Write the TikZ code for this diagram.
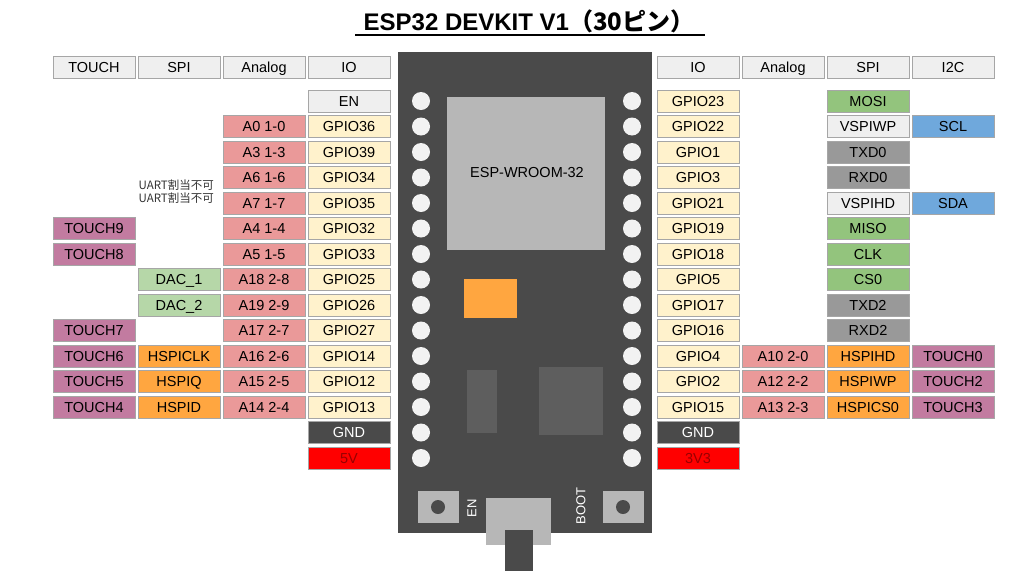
\documentclass[tikz,border=0pt]{standalone}
\usepackage{fontspec}
\setmainfont{Liberation Sans}
\newfontfamily\cjk{Noto Sans CJK JP}
\definecolor{analog}{HTML}{EA9999}
\definecolor{gpio}{HTML}{FFF2CC}
\definecolor{touch}{HTML}{C27BA0}
\definecolor{dac}{HTML}{B6D7A8}
\definecolor{hspi}{HTML}{FFA640}
\definecolor{vspi}{HTML}{93C47D}
\definecolor{uart}{HTML}{999999}
\definecolor{pale}{HTML}{EFEFEF}
\definecolor{itwoc}{HTML}{6FA8DC}
\definecolor{board}{HTML}{4A4A4A}
\definecolor{part}{HTML}{5E5E5E}
\definecolor{module}{HTML}{B7B7B7}
\tikzset{
  pin/.style={draw=gray!70, line width=0.8pt, minimum width=82pt, minimum height=22pt,
    inner sep=0pt, text depth=0pt, text height=10pt, font=\fontsize{14.5}{16}\selectfont},
  head/.style={pin, fill=pale},
}
\begin{document}
\begin{tikzpicture}[x=1pt, y=-1pt]
    \useasboundingbox (0, 0) rectangle (1024, 576);
    % title
    \node[font=\bfseries\fontsize{24}{26}\selectfont, inner sep=0pt] (title) at (529, 21) {ESP32 DEVKIT V1{\cjk\bfseries （30ピン）}};
    \draw[line width=1.6pt] (355, 35) coordinate (ula) -- (705, 35) coordinate (ulb);
    % board
    \fill[board] (398, 52) rectangle (652, 533);
    \fill[module] (447, 97) rectangle (605, 250);
    \node[font=\fontsize{14.5}{16}\selectfont] (wroom) at (527, 173) {ESP-WROOM-32};
    \fill[hspi] (464, 279) rectangle (517, 318);
    \fill[part] (467, 370) rectangle (497, 433);
    \fill[part] (539, 367) rectangle (603, 435);
    \foreach \r in {0, ..., 14} {
        \fill[white!90!gray] (421, 101 + 25.5*\r) circle (9);
        \fill[white!90!gray] (632, 101 + 25.5*\r) circle (9);
    }
    \fill[module] (418, 491) rectangle (459, 523);
    \fill[board] (438, 507) circle (7);
    \fill[module] (603, 491) rectangle (644, 523);
    \fill[board] (623, 507) circle (7);
    \fill[module] (486, 498) rectangle (551, 545);
    \fill[board] (505, 530) rectangle (533, 571);
    \node[white, rotate=90, font=\fontsize{13}{15}\selectfont] (en) at (472, 508) {EN};
    \node[white, rotate=90, font=\fontsize{13}{15}\selectfont] (boot) at (581, 506) {BOOT};
    % headers
    \foreach \x/\t in {94/TOUCH, 179/SPI, 264/Analog, 349/IO, 698/IO, 783/Analog, 868/SPI, 953/I2C}
        \node[head] (h\t\x) at (\x, 67) {\t};
    % left IO
    \node[pin, fill=pale] (lio0) at (349, 101) {EN};
    \foreach \n [count=\r] in {36, 39, 34, 35, 32, 33, 25, 26, 27, 14, 12, 13}
        \node[pin, fill=gpio] (lio\r) at (349, 101 + 25.5*\r) {GPIO\n};
    \node[pin, fill=board, text=white] (lgnd) at (349, 101 + 25.5*13) {GND};
    \node[pin, fill=red, text=red!60!black] (l5v) at (349, 101 + 25.5*14) {5V};
    % left analog
    \foreach \t [count=\r] in {A0 1-0, A3 1-3, A6 1-6, A7 1-7, A4 1-4, A5 1-5, A18 2-8, A19 2-9, A17 2-7, A16 2-6, A15 2-5, A14 2-4}
        \node[pin, fill=analog] (lan\r) at (264, 101 + 25.5*\r) {\t};
    \node[anchor=east, text=black!80, font=\cjk\fontsize{11.5}{13}\selectfont, inner sep=0pt] (uart34) at (214, 185) {UART割当不可};
    \node[anchor=east, text=black!80, font=\cjk\fontsize{11.5}{13}\selectfont, inner sep=0pt] (uart35) at (214, 198) {UART割当不可};
    % left spi
    \node[pin, fill=dac] (ldac1) at (179, 101 + 25.5*7) {DAC\_1};
    \node[pin, fill=dac] (ldac2) at (179, 101 + 25.5*8) {DAC\_2};
    \foreach \t/\r in {HSPICLK/10, HSPIQ/11, HSPID/12}
        \node[pin, fill=hspi] (lspi\r) at (179, 101 + 25.5*\r) {\t};
    % left touch
    \foreach \t/\r in {9/5, 8/6, 7/9, 6/10, 5/11, 4/12}
        \node[pin, fill=touch] (ltouch\t) at (94, 101 + 25.5*\r) {TOUCH\t};
    % right IO
    \foreach \n [count=\r from 0] in {23, 22, 1, 3, 21, 19, 18, 5, 17, 16, 4, 2, 15}
        \node[pin, fill=gpio] (rio\r) at (698, 101 + 25.5*\r) {GPIO\n};
    \node[pin, fill=board, text=white] (rgnd) at (698, 101 + 25.5*13) {GND};
    \node[pin, fill=red, text=red!60!black] (r3v3) at (698, 101 + 25.5*14) {3V3};
    % right analog
    \foreach \t/\r in {A10 2-0/10, A12 2-2/11, A13 2-3/12}
        \node[pin, fill=analog] (ran\r) at (783, 101 + 25.5*\r) {\t};
    % right spi
    \foreach \t/\c [count=\r from 0] in {MOSI/vspi, VSPIWP/pale, TXD0/uart, RXD0/uart, VSPIHD/pale, MISO/vspi, CLK/vspi, CS0/vspi, TXD2/uart, RXD2/uart, HSPIHD/hspi, HSPIWP/hspi, HSPICS0/hspi}
        \node[pin, fill=\c] (rspi\r) at (868, 101 + 25.5*\r) {\t};
    % right i2c / touch
    \node[pin, fill=itwoc] (scl) at (953, 101 + 25.5*1) {SCL};
    \node[pin, fill=itwoc] (sda) at (953, 101 + 25.5*4) {SDA};
    \foreach \t/\r in {0/10, 2/11, 3/12}
        \node[pin, fill=touch] (rtouch\t) at (953, 101 + 25.5*\r) {TOUCH\t};
\end{tikzpicture}
\end{document}
